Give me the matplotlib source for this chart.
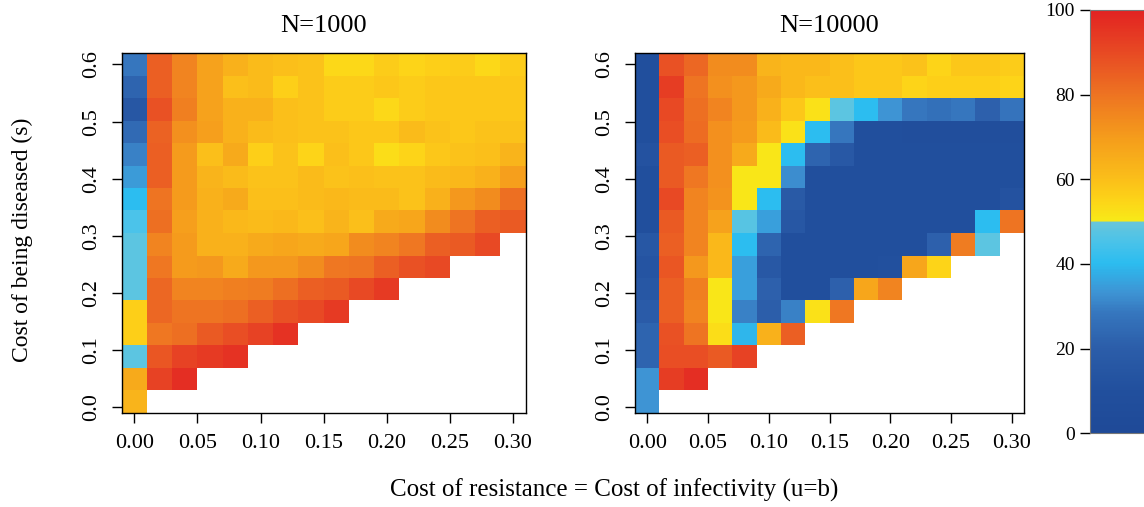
import numpy as np
import matplotlib
matplotlib.use("Agg")
import matplotlib.pyplot as plt
from matplotlib.colors import LinearSegmentedColormap

plt.rcParams['font.family'] = ['Liberation Serif', 'DejaVu Serif']

# cost of resistance = cost of infectivity (columns) and cost of being diseased (rows)
u_vals = [0.00, 0.02, 0.04, 0.06, 0.08, 0.10, 0.12, 0.14,
          0.16, 0.18, 0.20, 0.22, 0.24, 0.26, 0.28, 0.30]
s_vals = [0.010, 0.049, 0.089, 0.128, 0.167, 0.207, 0.246, 0.285,
          0.325, 0.364, 0.403, 0.443, 0.482, 0.521, 0.561, 0.600]
N_titles = ['N=1000', 'N=10000']

n = np.nan
# rows listed from top (s=0.60) to bottom (s=0.01), values in percent
grid_1000 = [
    [28, 85, 76, 68, 64, 61, 60, 59, 54, 54, 57, 55, 56, 57, 54, 57],
    [22, 85, 76, 68, 60, 61, 56, 59, 57, 57, 58, 57, 58, 58, 58, 58],
    [15, 88, 77, 68, 64, 64, 60, 59, 57, 57, 54, 57, 58, 58, 58, 58],
    [24, 84, 73, 69, 64, 61, 60, 59, 59, 58, 58, 61, 59, 58, 59, 59],
    [30, 85, 70, 60, 66, 56, 59, 55, 60, 58, 53, 55, 58, 59, 60, 63],
    [34, 85, 70, 63, 61, 59, 59, 61, 59, 60, 59, 59, 61, 62, 64, 69],
    [40, 80, 70, 64, 66, 60, 60, 61, 62, 61, 61, 59, 64, 71, 74, 81],
    [45, 81, 69, 64, 62, 61, 62, 60, 63, 60, 66, 67, 74, 80, 85, 86],
    [48, 76, 70, 64, 64, 66, 67, 66, 67, 74, 76, 79, 85, 86, 90, n],
    [48, 79, 70, 71, 66, 71, 71, 74, 79, 80, 85, 88, 90, n, n, n],
    [48, 83, 76, 76, 77, 78, 81, 85, 86, 90, 94, n, n, n, n, n],
    [56, 83, 80, 80, 81, 85, 88, 90, 94, n, n, n, n, n, n, n],
    [56, 79, 81, 86, 89, 92, 96, n, n, n, n, n, n, n, n, n],
    [48, 87, 92, 94, 96, n, n, n, n, n, n, n, n, n, n, n],
    [66, 92, 97, n, n, n, n, n, n, n, n, n, n, n, n, n],
    [63, n, n, n, n, n, n, n, n, n, n, n, n, n, n, n],
]
grid_10000 = [
    [8, 88, 83, 74, 74, 63, 62, 62, 60, 58, 58, 59, 55, 58, 58, 57],
    [8, 93, 80, 73, 71, 66, 62, 60, 60, 58, 58, 55, 56, 56, 56, 55],
    [8, 90, 81, 76, 71, 64, 58, 52, 48, 40, 33, 28, 26, 28, 21, 27],
    [8, 89, 82, 73, 70, 61, 52, 40, 28, 8, 8, 7, 7, 7, 7, 7],
    [12, 86, 85, 73, 66, 51, 40, 22, 16, 8, 8, 8, 8, 8, 8, 8],
    [8, 86, 79, 73, 51, 51, 32, 8, 8, 8, 8, 8, 8, 8, 8, 8],
    [8, 90, 76, 72, 51, 40, 17, 8, 8, 8, 8, 8, 8, 8, 8, 12],
    [8, 86, 76, 68, 47, 35, 15, 8, 8, 8, 8, 8, 8, 8, 40, 80],
    [15, 85, 76, 62, 40, 22, 8, 8, 8, 8, 8, 8, 21, 78, 48, n],
    [13, 87, 71, 62, 35, 16, 8, 8, 8, 8, 10, 67, 55, n, n, n],
    [15, 85, 77, 51, 35, 21, 8, 8, 21, 67, 76, n, n, n, n, n],
    [18, 85, 76, 51, 30, 20, 30, 52, 79, n, n, n, n, n, n, n],
    [22, 88, 80, 53, 39, 64, 85, n, n, n, n, n, n, n, n, n],
    [22, 89, 89, 86, 92, n, n, n, n, n, n, n, n, n, n, n],
    [33, 93, 97, n, n, n, n, n, n, n, n, n, n, n, n, n],
    [33, n, n, n, n, n, n, n, n, n, n, n, n, n, n, n],
]

cmap = LinearSegmentedColormap.from_list('split', [
    (0.00, '#1f4a98'), (0.10, '#22509e'), (0.20, '#2c5eaa'),
    (0.28, '#3676be'), (0.33, '#3e94d4'), (0.40, '#2cbdf0'),
    (0.45, '#4ac3ea'), (0.4999, '#6ac6da'), (0.5001, '#f8ea18'),
    (0.55, '#fdd418'), (0.60, '#fbbf1a'), (0.70, '#f59c1c'),
    (0.80, '#ee7422'), (0.90, '#e84a24'), (1.00, '#e32322')])
cmap.set_bad('white')


def edges(c):
    c = np.asarray(c)
    mid = (c[:-1] + c[1:]) / 2
    return np.concatenate([[2 * c[0] - mid[0]], mid, [2 * c[-1] - mid[-1]]])


W, H = 1144, 507
fig = plt.figure(figsize=(W / 100, H / 100), dpi=100)

positions = [(121.7, 525.5), (635, 1024)]
top, bottom = 53.3, 412.7
for (x0, x1), grid, title in zip(positions, [grid_1000, grid_10000], N_titles):
    ax = fig.add_axes([x0 / W, 1 - bottom / H, (x1 - x0) / W, (bottom - top) / H])
    z = np.ma.masked_invalid(np.array(grid, dtype=float)[::-1])
    ax.pcolormesh(edges(u_vals), edges(s_vals), z, cmap=cmap, vmin=0, vmax=100)
    ax.set_xlim(edges(u_vals)[0], edges(u_vals)[-1])
    ax.set_ylim(edges(s_vals)[0], edges(s_vals)[-1])
    ax.set_xticks([0, 0.05, 0.10, 0.15, 0.20, 0.25, 0.30])
    ax.set_xticklabels(['0.00', '0.05', '0.10', '0.15', '0.20', '0.25', '0.30'])
    ax.set_yticks([0, 0.1, 0.2, 0.3, 0.4, 0.5, 0.6])
    ax.set_yticklabels(['0.0', '0.1', '0.2', '0.3', '0.4', '0.5', '0.6'],
                       rotation=90, va='center')
    ax.tick_params(length=7, width=1, labelsize=16, pad=8)
    for sp in ax.spines.values():
        sp.set_linewidth(1)
    ax.set_title(title, fontsize=19, pad=15)

fig.text(22 / W, 1 - 240 / H, 'Cost of being diseased (s)', rotation=90,
         ha='center', va='center', fontsize=17)
fig.text(614 / W, 1 - 490 / H, 'Cost of resistance = Cost of infectivity (u=b)',
         ha='center', va='center', fontsize=18)

cax = fig.add_axes([1090 / W, 1 - 433.3 / H, 0.06, (433.3 - 10) / H])
cb = np.linspace(0, 100, 401).reshape(-1, 1)
cax.imshow(cb, cmap=cmap, vmin=0, vmax=100, aspect='auto', origin='lower',
           extent=[0, 1, 0, 100])
cax.set_xticks([])
cax.set_yticks([0, 20, 40, 60, 80, 100])
cax.tick_params(length=7, width=1, labelsize=14, pad=4)
for sp in cax.spines.values():
    sp.set_color('#777777')
    sp.set_linewidth(0.8)

fig.savefig('out.png', dpi=100)
